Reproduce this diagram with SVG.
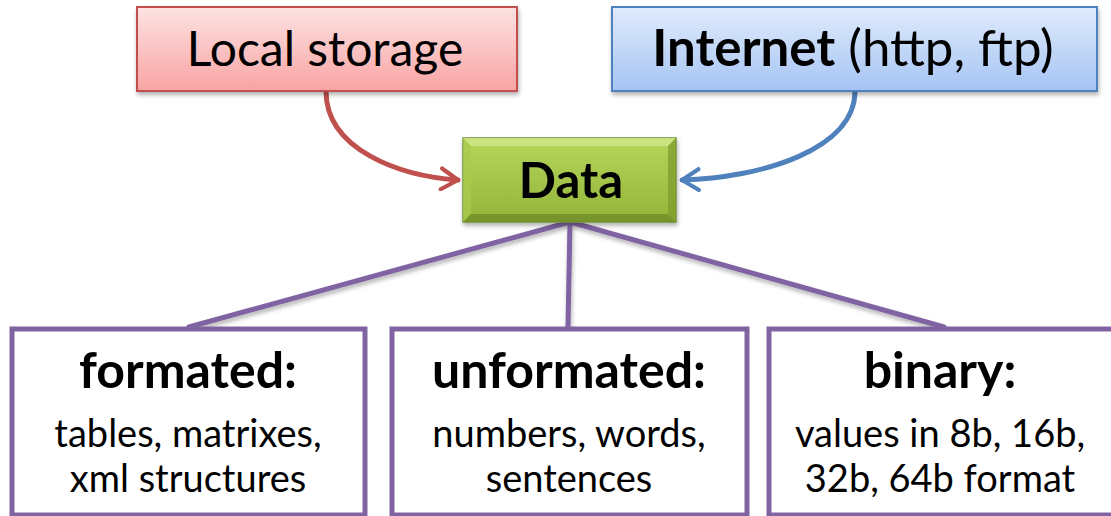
<svg xmlns="http://www.w3.org/2000/svg" width="1111" height="516" viewBox="0 0 1111 516">
<style>
text{font-family:Lato,"Open Sans","Liberation Sans",sans-serif;fill:#000;text-anchor:middle}
.t{font-size:48px}
.ti{font-size:51px}
.b{font-weight:bold}
.sub{font-size:38px}
.hd{font-size:50px;font-weight:bold}
.dt{font-size:49px;font-weight:bold}
.conn{fill:none;stroke-width:5;stroke-linecap:round}
.cat{fill:#fff;stroke:#8064a2;stroke-width:5}
</style>
<defs>
<linearGradient id="gr" x1="0" y1="0" x2="0" y2="1"><stop offset="0" stop-color="#fde3e3"/><stop offset="1" stop-color="#f9a3a3"/></linearGradient>
<linearGradient id="gb" x1="0" y1="0" x2="0" y2="1"><stop offset="0" stop-color="#e0ebfc"/><stop offset="1" stop-color="#a5c4f4"/></linearGradient>
<linearGradient id="gg" x1="0" y1="0" x2="0" y2="1"><stop offset="0" stop-color="#b6d65d"/><stop offset="1" stop-color="#92b437"/></linearGradient>
<filter id="sh" x="-10%" y="-10%" width="120%" height="130%"><feDropShadow dx="1" dy="3" stdDeviation="2" flood-color="#000" flood-opacity="0.3"/></filter>
<marker id="ar" viewBox="0 0 12 12" refX="10" refY="6" markerWidth="5" markerHeight="5" orient="auto" markerUnits="strokeWidth"><path d="M2,1 L10,6 L2,11" fill="none" stroke="#c0504d" stroke-width="2" stroke-linecap="round" stroke-linejoin="round"/></marker>
<marker id="ab" viewBox="0 0 12 12" refX="10" refY="6" markerWidth="5" markerHeight="5" orient="auto" markerUnits="strokeWidth"><path d="M2,1 L10,6 L2,11" fill="none" stroke="#4f81bd" stroke-width="2" stroke-linecap="round" stroke-linejoin="round"/></marker>
</defs>
<g id="connectors">
<path class="conn" d="M326,91 C326,150 400,176 458,180" stroke="#c0504d" marker-end="url(#ar)"/>
<path class="conn" d="M855,91 C855,150 760,178 682,180" stroke="#4f81bd" marker-end="url(#ab)"/>
<g filter="url(#sh)">
<path class="conn" d="M570,222 L189,327" stroke="#8064a2"/>
<path class="conn" d="M570,222 L568,327" stroke="#8064a2"/>
<path class="conn" d="M570,222 L944,327" stroke="#8064a2"/>
</g>
</g>
<g id="local">
<rect x="137" y="7" width="380" height="84" fill="url(#gr)" stroke="#c0504d" stroke-width="2" filter="url(#sh)"/>
<text class="t" x="325" y="66">Local storage</text>
</g>
<g id="internet">
<rect x="612" y="7" width="485" height="84" fill="url(#gb)" stroke="#4f81bd" stroke-width="2" filter="url(#sh)"/>
<text class="ti" x="853" y="66"><tspan class="b">Internet</tspan> (http, ftp)</text>
</g>
<g id="data">
<rect x="463" y="138" width="213" height="84" fill="url(#gg)" stroke="#76923c" stroke-width="1.5" filter="url(#sh)"/>
<polygon points="463,138 676,138 668,146 471,146" fill="#cfe78a" opacity="0.8"/>
<polygon points="463,138 471,146 471,214 463,222" fill="#a8cb4c" opacity="0.8"/>
<polygon points="676,138 668,146 668,214 676,222" fill="#7f9e2e" opacity="0.8"/>
<polygon points="463,222 471,214 668,214 676,222" fill="#6f8c27" opacity="0.8"/>
<text class="dt" x="571" y="198">Data</text>
</g>
<g id="formated">
<rect class="cat" x="12" y="329" width="353" height="186"/>
<text class="hd" x="188" y="388">formated:</text>
<text class="sub" x="188" y="447">tables, matrixes,</text>
<text class="sub" x="188" y="492">xml structures</text>
</g>
<g id="unformated">
<rect class="cat" x="392" y="329" width="355" height="186"/>
<text class="hd" x="569" y="388">unformated:</text>
<text class="sub" x="569" y="447">numbers, words,</text>
<text class="sub" x="569" y="492">sentences</text>
</g>
<g id="binary">
<rect class="cat" x="769" y="329" width="356" height="186"/>
<text class="hd" x="940" y="388">binary:</text>
<text class="sub" x="940" y="447">values in 8b, 16b,</text>
<text class="sub" x="940" y="492">32b, 64b format</text>
</g>
</svg>
